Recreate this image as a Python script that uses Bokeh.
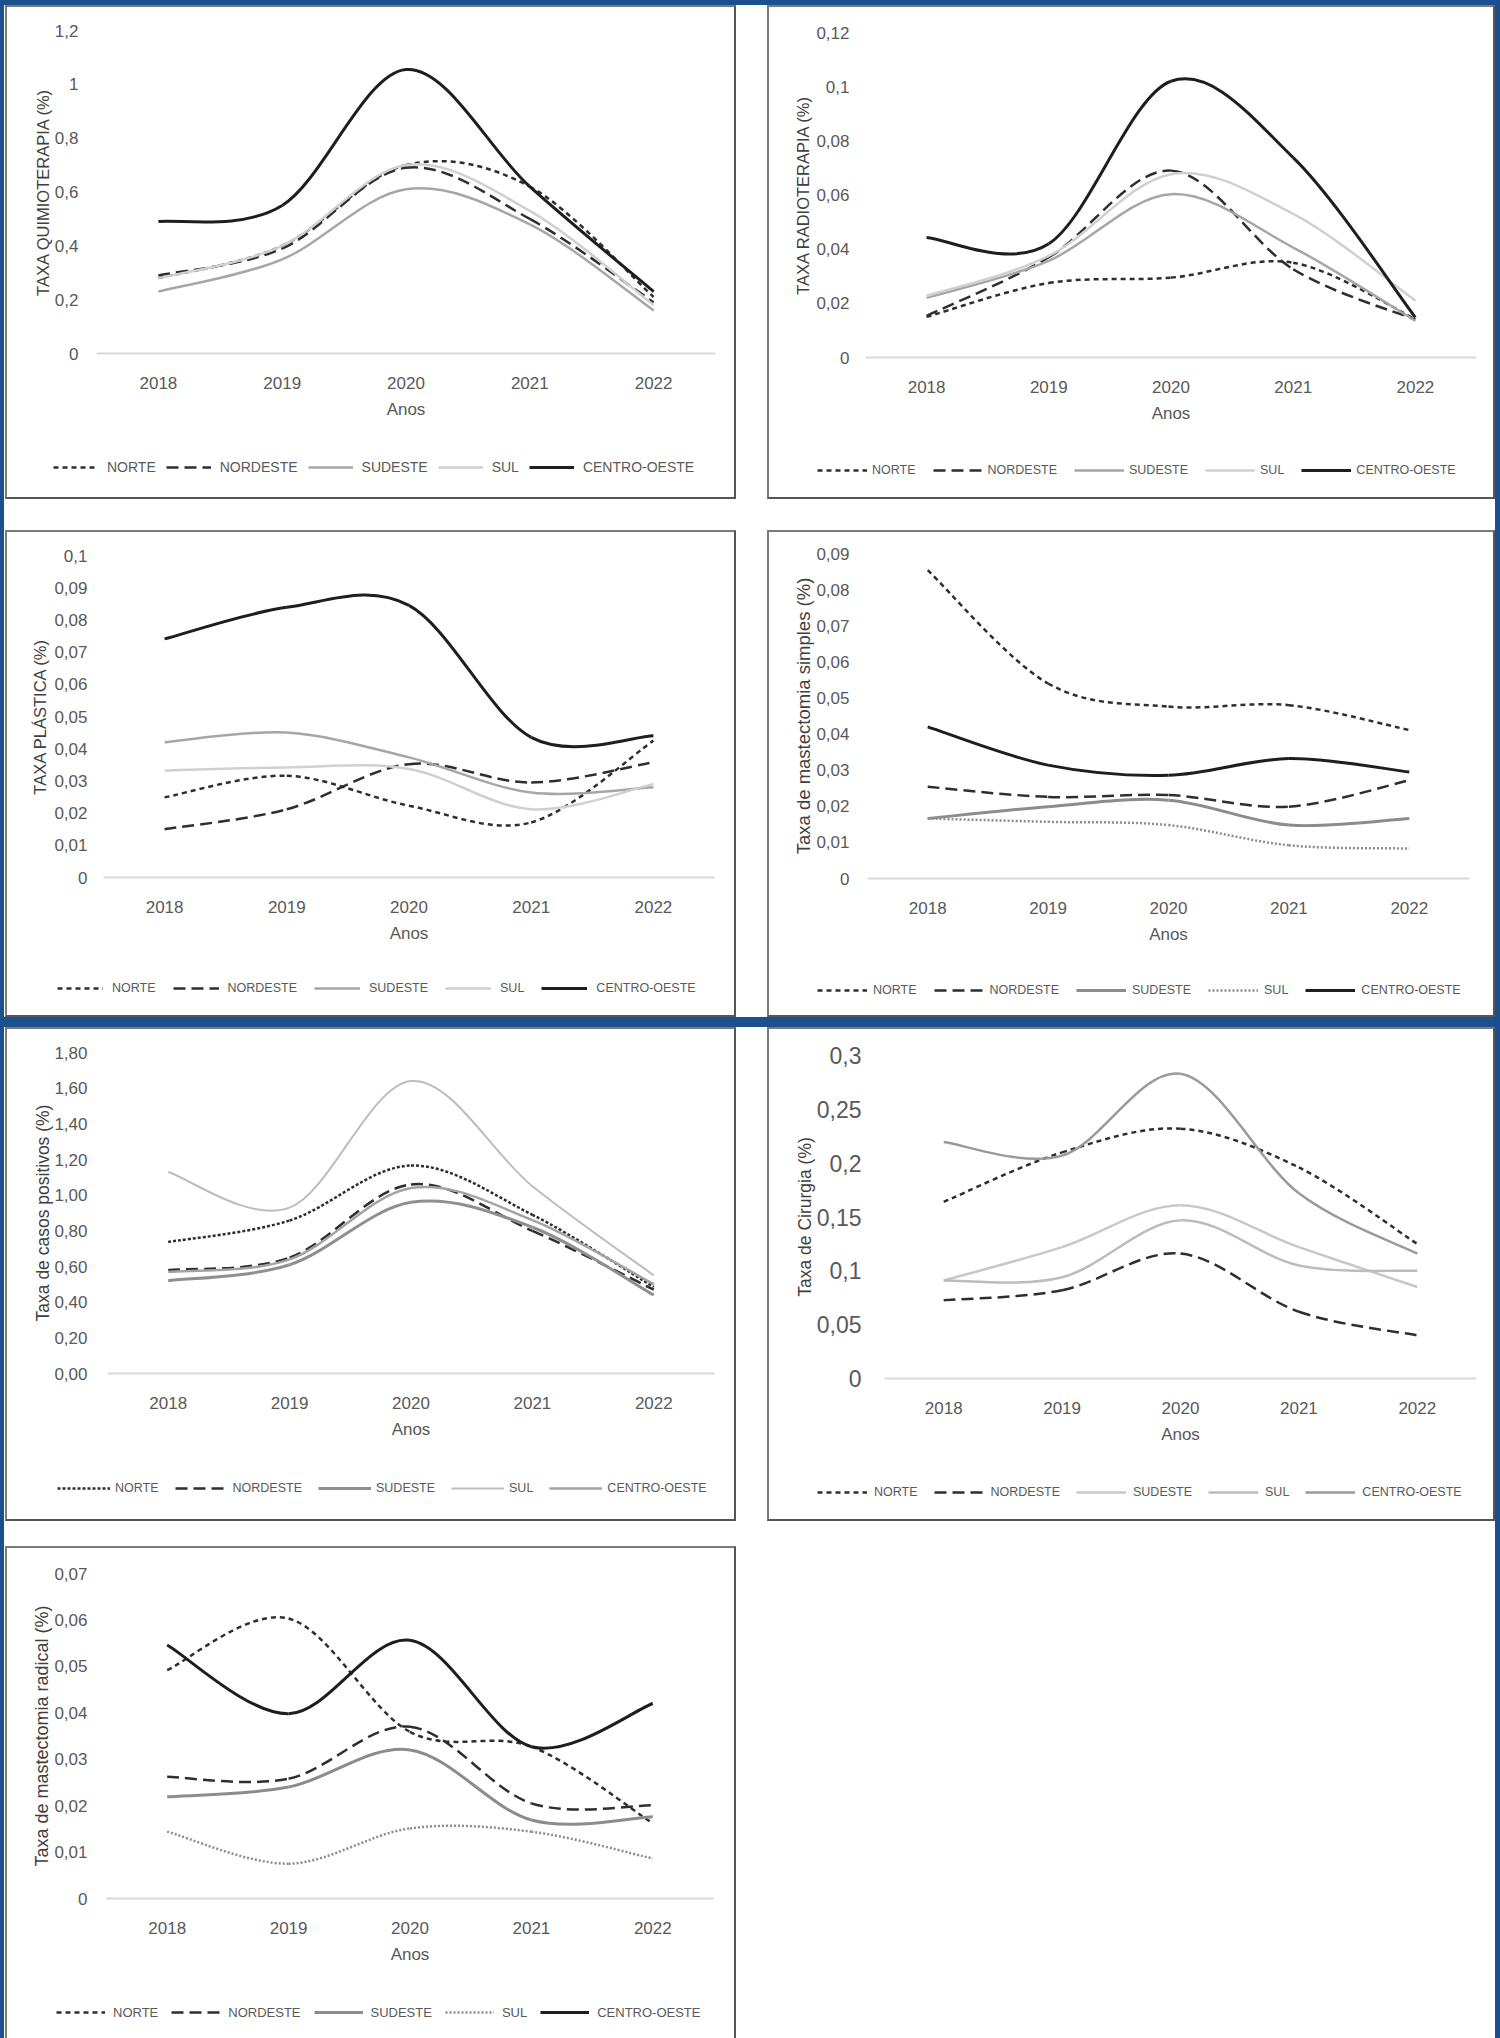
from bokeh.plotting import figure
from bokeh.models import Range1d, FixedTicker, Legend, LegendItem, Div, Spacer
from bokeh.layouts import column, row
from bokeh.embed import file_html
from bokeh.resources import INLINE

# ---------------- data ----------------
anos = ["2018", "2019", "2020", "2021", "2022"]
regioes = ["NORTE", "NORDESTE", "SUDESTE", "SUL", "CENTRO-OESTE"]

quimio_norte = [0.28, 0.40, 0.70, 0.62, 0.21]
quimio_nordeste = [0.29, 0.39, 0.69, 0.50, 0.19]
quimio_sudeste = [0.23, 0.35, 0.61, 0.48, 0.16]
quimio_sul = [0.28, 0.40, 0.70, 0.53, 0.18]
quimio_centro = [0.49, 0.55, 1.055, 0.62, 0.23]
quimio_ticks = [0, 0.2, 0.4, 0.6, 0.8, 1.0, 1.2]
quimio_labels = ["0", "0,2", "0,4", "0,6", "0,8", "1", "1,2"]

radio_norte = [0.015, 0.0275, 0.0295, 0.035, 0.0142]
radio_nordeste = [0.0154, 0.037, 0.069, 0.0326, 0.014]
radio_sudeste = [0.022, 0.0357, 0.0603, 0.0406, 0.0135]
radio_sul = [0.0228, 0.0375, 0.0677, 0.053, 0.021]
radio_centro = [0.0443, 0.042, 0.102, 0.0738, 0.0148]
radio_ticks = [0, 0.02, 0.04, 0.06, 0.08, 0.1, 0.12]
radio_labels = ["0", "0,02", "0,04", "0,06", "0,08", "0,1", "0,12"]

plast_norte = [0.0249, 0.0316, 0.0223, 0.0171, 0.0425]
plast_nordeste = [0.015, 0.0212, 0.0352, 0.0295, 0.0358]
plast_sudeste = [0.042, 0.045, 0.0373, 0.0264, 0.028]
plast_sul = [0.0332, 0.0342, 0.0337, 0.0212, 0.029]
plast_centro = [0.0741, 0.0839, 0.0845, 0.0435, 0.044]
plast_ticks = [0, 0.01, 0.02, 0.03, 0.04, 0.05, 0.06, 0.07, 0.08, 0.09, 0.1]
plast_labels = ["0", "0,01", "0,02", "0,03", "0,04", "0,05", "0,06", "0,07", "0,08", "0,09", "0,1"]

msimp_norte = [0.0854, 0.054, 0.0476, 0.048, 0.0411]
msimp_nordeste = [0.0254, 0.0226, 0.0231, 0.0199, 0.0272]
msimp_sudeste = [0.0166, 0.0199, 0.0217, 0.0148, 0.0166]
msimp_sul = [0.0166, 0.0157, 0.0148, 0.0092, 0.0083]
msimp_centro = [0.042, 0.0314, 0.0286, 0.0332, 0.0295]
msimp_ticks = [0, 0.01, 0.02, 0.03, 0.04, 0.05, 0.06, 0.07, 0.08, 0.09]
msimp_labels = ["0", "0,01", "0,02", "0,03", "0,04", "0,05", "0,06", "0,07", "0,08", "0,09"]

casos_norte = [0.737, 0.858, 1.166, 0.89, 0.485]
casos_nordeste = [0.58, 0.65, 1.06, 0.80, 0.47]
casos_sudeste = [0.52, 0.61, 0.96, 0.82, 0.44]
casos_sul = [1.13, 0.93, 1.64, 1.05, 0.55]
casos_centro = [0.57, 0.64, 1.04, 0.86, 0.50]
casos_ticks = [0, 0.2, 0.4, 0.6, 0.8, 1.0, 1.2, 1.4, 1.6, 1.8]
casos_labels = ["0,00", "0,20", "0,40", "0,60", "0,80", "1,00", "1,20", "1,40", "1,60", "1,80"]

cirur_norte = [0.164, 0.21, 0.232, 0.196, 0.125]
cirur_nordeste = [0.0727, 0.082, 0.116, 0.062, 0.040]
cirur_sudeste = [0.091, 0.122, 0.161, 0.122, 0.085]
cirur_sul = [0.091, 0.094, 0.147, 0.105, 0.10]
cirur_centro = [0.2196, 0.207, 0.283, 0.172, 0.116]
cirur_ticks = [0, 0.05, 0.1, 0.15, 0.2, 0.25, 0.3]
cirur_labels = ["0", "0,05", "0,1", "0,15", "0,2", "0,25", "0,3"]

mrad_norte = [0.0492, 0.0603, 0.0359, 0.0327, 0.0162]
mrad_nordeste = [0.0262, 0.0258, 0.037, 0.0205, 0.0201]
mrad_sudeste = [0.0219, 0.024, 0.032, 0.0169, 0.0176]
mrad_sul = [0.0144, 0.0075, 0.0151, 0.0144, 0.0086]
mrad_centro = [0.0546, 0.0398, 0.0556, 0.0327, 0.042]
mrad_ticks = [0, 0.01, 0.02, 0.03, 0.04, 0.05, 0.06, 0.07]
mrad_labels = ["0", "0,01", "0,02", "0,03", "0,04", "0,05", "0,06", "0,07"]

# ---------------- styles ----------------
BLUE = "#1c4f8f"
FONT = "Liberation Sans"
TXT = "#595959"
DARK = "#2e2e2e"
HL = 64  # height of the legend strip under each chart


def st(color, width, dash="solid"):
    return dict(color=color, width=width, dash=dash)


STY_A = [st(DARK, 2.5, "5 4"), st(DARK, 2.5, "12 6"), st("#a6a6a6", 2.5),
         st("#d0d0d0", 2.5), st("#1e1e1e", 3)]
STY_B = [st(DARK, 2.5, "5 4"), st(DARK, 2.5, "12 6"), st("#8c8c8c", 3),
         st("#8c8c8c", 2.5, "2 2"), st("#1e1e1e", 3)]
STY_C = [st(DARK, 2.5, "3 2"), st(DARK, 2.5, "12 6"), st("#8f8f8f", 3),
         st("#bdbdbd", 2), st("#a3a3a3", 2.5)]
STY_D = [st(DARK, 2.5, "5 4"), st(DARK, 2.5, "12 6"), st("#c8c8c8", 2.5),
         st("#bcbcbc", 2.5), st("#9a9a9a", 2.5)]


def bezier_cols(vals):
    n = len(vals)
    pts = [(float(i), float(v)) for i, v in enumerate(vals)]

    def pt(i):
        return pts[min(max(i, 0), n - 1)]

    d = dict(x0=[], y0=[], x1=[], y1=[], cx0=[], cy0=[], cx1=[], cy1=[])
    for i in range(n - 1):
        p0, p1, p2, p3 = pt(i - 1), pt(i), pt(i + 1), pt(i + 2)
        d["x0"].append(p1[0]); d["y0"].append(p1[1])
        d["x1"].append(p2[0]); d["y1"].append(p2[1])
        d["cx0"].append(p1[0] + (p2[0] - p0[0]) / 6.0)
        d["cy0"].append(p1[1] + (p2[1] - p0[1]) / 6.0)
        d["cx1"].append(p2[0] - (p3[0] - p1[0]) / 6.0)
        d["cy1"].append(p2[1] - (p3[1] - p1[1]) / 6.0)
    return d


def make_chart(fw, fh, ml, mr, mt, mb, ticks, labels, ytitle, tsize, yticksize,
               lstand, tstand, series, styles):
    p = figure(width=fw, height=fh - HL, x_range=Range1d(-0.5, 4.5),
               y_range=Range1d(0, ticks[-1]), output_backend="svg",
               toolbar_location=None, min_border_left=ml, min_border_right=mr,
               min_border_top=mt, min_border_bottom=mb - HL, frame_align=False)
    p.xgrid.visible = False
    p.ygrid.visible = False
    p.outline_line_color = None
    p.background_fill_color = "white"
    p.border_fill_color = "white"

    xa = p.xaxis[0]
    xa.ticker = FixedTicker(ticks=[0, 1, 2, 3, 4])
    xa.major_label_overrides = {i: a for i, a in enumerate(anos)}
    xa.axis_line_color = "#d9d9d9"
    xa.axis_line_width = 2
    xa.major_tick_line_color = None
    xa.minor_tick_line_color = None
    xa.major_label_text_font = FONT
    xa.major_label_text_font_size = "17px"
    xa.major_label_text_color = TXT
    xa.major_label_standoff = 17
    xa.axis_label = "Anos"
    xa.axis_label_text_font = FONT
    xa.axis_label_text_font_size = "17px"
    xa.axis_label_text_font_style = "normal"
    xa.axis_label_text_color = TXT
    xa.axis_label_standoff = 8

    ya = p.yaxis[0]
    ya.ticker = FixedTicker(ticks=ticks)
    ya.major_label_overrides = dict(zip(ticks, labels))
    ya.axis_line_color = None
    ya.major_tick_line_color = None
    ya.minor_tick_line_color = None
    ya.major_label_text_font = FONT
    ya.major_label_text_font_size = yticksize
    ya.major_label_text_color = TXT
    ya.major_label_standoff = lstand
    ya.axis_label = ytitle
    ya.axis_label_text_font = FONT
    ya.axis_label_text_font_size = tsize
    ya.axis_label_text_font_style = "normal"
    ya.axis_label_text_color = "#404040"
    ya.axis_label_standoff = tstand

    for vals, s in zip(series, styles):
        p.bezier(x0="x0", y0="y0", x1="x1", y1="y1", cx0="cx0", cy0="cy0",
                 cx1="cx1", cy1="cy1", source=bezier_cols(vals),
                 line_color=s["color"], line_width=s["width"], line_dash=s["dash"])
    return p


def make_legend(fw, series, styles, leg):
    lx, ly, gw, so, sp, lsize = leg
    lf = figure(width=fw, height=HL, x_range=Range1d(-0.5, 4.5), y_range=Range1d(0, 1),
                output_backend="svg", toolbar_location=None, min_border=0,
                x_axis_location=None, y_axis_location=None, frame_align=False)
    lf.xgrid.visible = False
    lf.ygrid.visible = False
    lf.outline_line_color = None
    lf.background_fill_color = "white"
    lf.border_fill_color = "white"
    items = []
    for name, vals, s in zip(regioes, series, styles):
        r = lf.line(x=list(range(len(vals))), y=vals, line_color=s["color"],
                    line_width=s["width"], line_dash=s["dash"], visible=False)
        items.append(LegendItem(label=name, renderers=[r]))
    legend = Legend(items=items, orientation="horizontal", location=(lx, ly),
                    glyph_width=gw, glyph_height=20, label_standoff=so, spacing=sp,
                    padding=0, margin=0, border_line_color=None,
                    background_fill_alpha=0, label_text_font=FONT,
                    label_text_font_size=lsize, label_text_color=TXT,
                    label_height=20, inactive_fill_alpha=0)
    lf.add_layout(legend, "center")
    return lf


def panel(fw, fh, geom, ticks, labels, ytitle, tsize, yticksize, stand, series,
          styles, leg, bottom=True):
    ml, mr, mt, mb = geom
    lstand, tstand = stand
    chart = make_chart(fw, fh, ml, mr, mt, mb, ticks, labels, ytitle, tsize,
                       yticksize, lstand, tstand, series, styles)
    lg = make_legend(fw, series, styles, leg)
    s = {"border-left": "2px solid #7a7a7a", "border-top": "2px solid #7a7a7a",
         "border-right": "2px solid #555555"}
    if bottom:
        s["border-bottom"] = "2px solid #555555"
    return column(chart, lg, styles=s)


def blue(w, h):
    return Div(text="", width=w, height=h, margin=0,
               styles={"background-color": BLUE})


def gap(w, h):
    return Spacer(width=w, height=h, margin=0)


P1 = panel(727, 490, (89, 19, 23, 144), quimio_ticks, quimio_labels,
           "TAXA QUIMIOTERAPIA (%)", "16.5px", "17px", (12, 0),
           [quimio_norte, quimio_nordeste, quimio_sudeste, quimio_sul, quimio_centro],
           STY_A, (46, 20, 45, 9, 10, "14px"))
P2 = panel(724, 490, (96, 17, 25, 140), radio_ticks, radio_labels,
           "TAXA RADIOTERAPIA (%)", "16.5px", "17px", (10, 1),
           [radio_norte, radio_nordeste, radio_sudeste, radio_sul, radio_centro],
           STY_A, (48, 17, 50, 5, 17, "12.5px"))
P3 = panel(727, 483, (96, 20, 23, 138), plast_ticks, plast_labels,
           "TAXA PLÁSTICA (%)", "16.5px", "17px", (10, 2),
           [plast_norte, plast_nordeste, plast_sudeste, plast_sul, plast_centro],
           STY_A, (50, 17, 46, 9, 17, "12.5px"))
P4 = panel(724, 483, (98, 24, 21, 137), msimp_ticks, msimp_labels,
           "Taxa de mastectomia simples (%)", "18.5px", "17px", (12, -1),
           [msimp_norte, msimp_nordeste, msimp_sudeste, msimp_sul, msimp_centro],
           STY_B, (48, 15, 50, 6, 17, "12.5px"))
P5 = panel(727, 490, (100, 20, 23, 146), casos_ticks, casos_labels,
           "Taxa de casos positivos (%)", "17.5px", "17px", (14, -2),
           [casos_norte, casos_nordeste, casos_sudeste, casos_sul, casos_centro],
           STY_C, (50, 21, 53, 5, 16, "12.5px"))
P6 = panel(724, 490, (115, 17, 26, 141), cirur_ticks, cirur_labels,
           "Taxa de Cirurgia (%)", "17.5px", "23px", (17, -1),
           [cirur_norte, cirur_nordeste, cirur_sudeste, cirur_sul, cirur_centro],
           STY_D, (48, 17, 50, 7, 16, "12.5px"))
P7 = panel(727, 490, (99, 21, 25, 140), mrad_ticks, mrad_labels,
           "Taxa de mastectomia radical (%)", "18px", "17px", (13, -1),
           [mrad_norte, mrad_nordeste, mrad_sudeste, mrad_sul, mrad_centro],
           STY_B, (49, 16, 49, 8, 13, "13px"), bottom=False)

layout = column(
    blue(1500, 5),
    row(blue(4, 494), gap(1, 494), P1, gap(31, 494), P2, blue(5, 494)),
    row(blue(4, 31), gap(1491, 31), blue(5, 31)),
    row(blue(4, 487), gap(1, 487), P3, gap(31, 487), P4, blue(5, 487)),
    blue(1500, 10),
    row(blue(4, 494), gap(1, 494), P5, gap(31, 494), P6, blue(5, 494)),
    row(blue(4, 25), gap(1491, 25), blue(5, 25)),
    row(blue(4, 492), gap(1, 492), P7, gap(759, 492), blue(5, 492)),
    styles={"background-color": "white"},
)

open("out.html", "w").write(file_html(layout, INLINE))
